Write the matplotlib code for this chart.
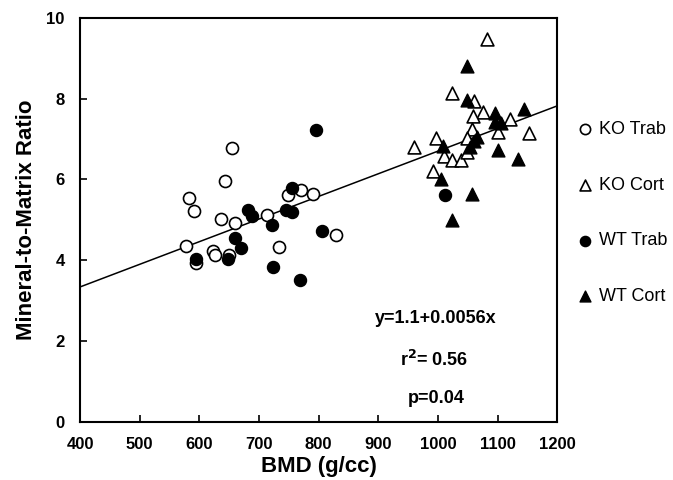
import matplotlib

matplotlib.use("Agg")
import matplotlib.pyplot as plt
import numpy as np

plt.rcParams["font.family"] = ["Liberation Sans", "DejaVu Sans"]

# KO trabecular (open circles)
ko_trab_x = [655, 643, 582, 591, 637, 659, 577, 623, 627, 595, 649, 714, 748, 771, 790, 734, 829]
ko_trab_y = [6.77, 5.96, 5.54, 5.22, 5.02, 4.93, 4.36, 4.24, 4.12, 3.93, 4.13, 5.13, 5.61, 5.73, 5.63, 4.33, 4.62]

# KO cortical (open triangles)
ko_cort_x = [1083, 1024, 1061, 1076, 1059, 1120, 1152, 1100, 1057, 996, 960, 1049, 1010, 1024, 1038, 1048, 992]
ko_cort_y = [9.47, 8.14, 7.93, 7.66, 7.57, 7.50, 7.15, 7.18, 7.25, 7.02, 6.79, 7.02, 6.58, 6.49, 6.49, 6.69, 6.21]

# WT trabecular (filled circles)
wt_trab_x = [795, 756, 681, 688, 745, 755, 722, 659, 670, 594, 648, 806, 723, 768, 1012]
wt_trab_y = [7.23, 5.80, 5.24, 5.10, 5.24, 5.19, 4.88, 4.55, 4.31, 4.03, 4.03, 4.73, 3.84, 3.51, 5.62]

# WT cortical (filled triangles)
wt_cort_x = [1048, 1048, 1144, 1096, 1095, 1105, 1066, 1060, 1054, 1008, 1101, 1134, 1005, 1057, 1024]
wt_cort_y = [8.81, 7.97, 7.74, 7.64, 7.43, 7.39, 7.06, 6.94, 6.81, 6.83, 6.73, 6.50, 6.00, 5.64, 5.00]

# regression y = 1.1 + 0.0056x
fit_intercept = 1.1
fit_slope = 0.0056
fit_x = np.array([400, 1200])

x_ticks = list(range(400, 1201, 100))
y_ticks = list(range(0, 11, 2))

fig = plt.figure(figsize=(6.73, 4.80), dpi=100)
ax = fig.add_axes([0.119, 0.121, 0.709, 0.842])

ax.plot(fit_x, fit_intercept + fit_slope * fit_x, color="black", lw=1.1, zorder=1)

ax.scatter(ko_trab_x, ko_trab_y, s=75, marker="o", facecolor="white",
           edgecolor="black", linewidth=1.2, label="KO Trab", zorder=2)
ax.scatter(ko_cort_x, ko_cort_y, s=85, marker="^", facecolor="white",
           edgecolor="black", linewidth=1.2, label="KO Cort", zorder=2)
ax.scatter(wt_trab_x, wt_trab_y, s=75, marker="o", facecolor="black",
           edgecolor="black", linewidth=1.0, label="WT Trab", zorder=3)
ax.scatter(wt_cort_x, wt_cort_y, s=85, marker="^", facecolor="black",
           edgecolor="black", linewidth=1.0, label="WT Cort", zorder=3)

ax.set_xlim(400, 1200)
ax.set_ylim(0, 10)
ax.tick_params(direction="in", length=5, width=1.2, labelsize=12, pad=11)
ax.set_xticks(x_ticks, [str(v) for v in x_ticks], fontweight="bold")
ax.set_yticks(y_ticks, [str(v) for v in y_ticks], fontweight="bold")
for sp in ax.spines.values():
    sp.set_linewidth(1.5)

ax.set_xlabel("BMD (g/cc)", fontsize=16, fontweight="bold", labelpad=3)
ax.set_ylabel("Mineral-to-Matrix Ratio", fontsize=16, fontweight="bold", labelpad=7)

ax.text(997, 2.57, "y=1.1+0.0056x", ha="center", va="center", fontsize=13, fontweight="bold")
ax.text(993, 1.53, "r$^{\\mathbf{2}}$= 0.56", ha="center", va="center", fontsize=13, fontweight="bold")
ax.text(997, 0.57, "p=0.04", ha="center", va="center", fontsize=13, fontweight="bold")

ax.legend(loc="upper left", bbox_to_anchor=(1.025, 0.763), frameon=False,
          prop={"size": 13}, labelspacing=2.15,
          handletextpad=0.25, handlelength=1.0, borderaxespad=0, markerscale=0.85)

# draw once so the tick labels exist, then make sure they stay bold
fig.canvas.draw()
for lab in ax.get_xticklabels() + ax.get_yticklabels():
    lab.set_fontweight("bold")

fig.savefig("out.png", dpi=100)
